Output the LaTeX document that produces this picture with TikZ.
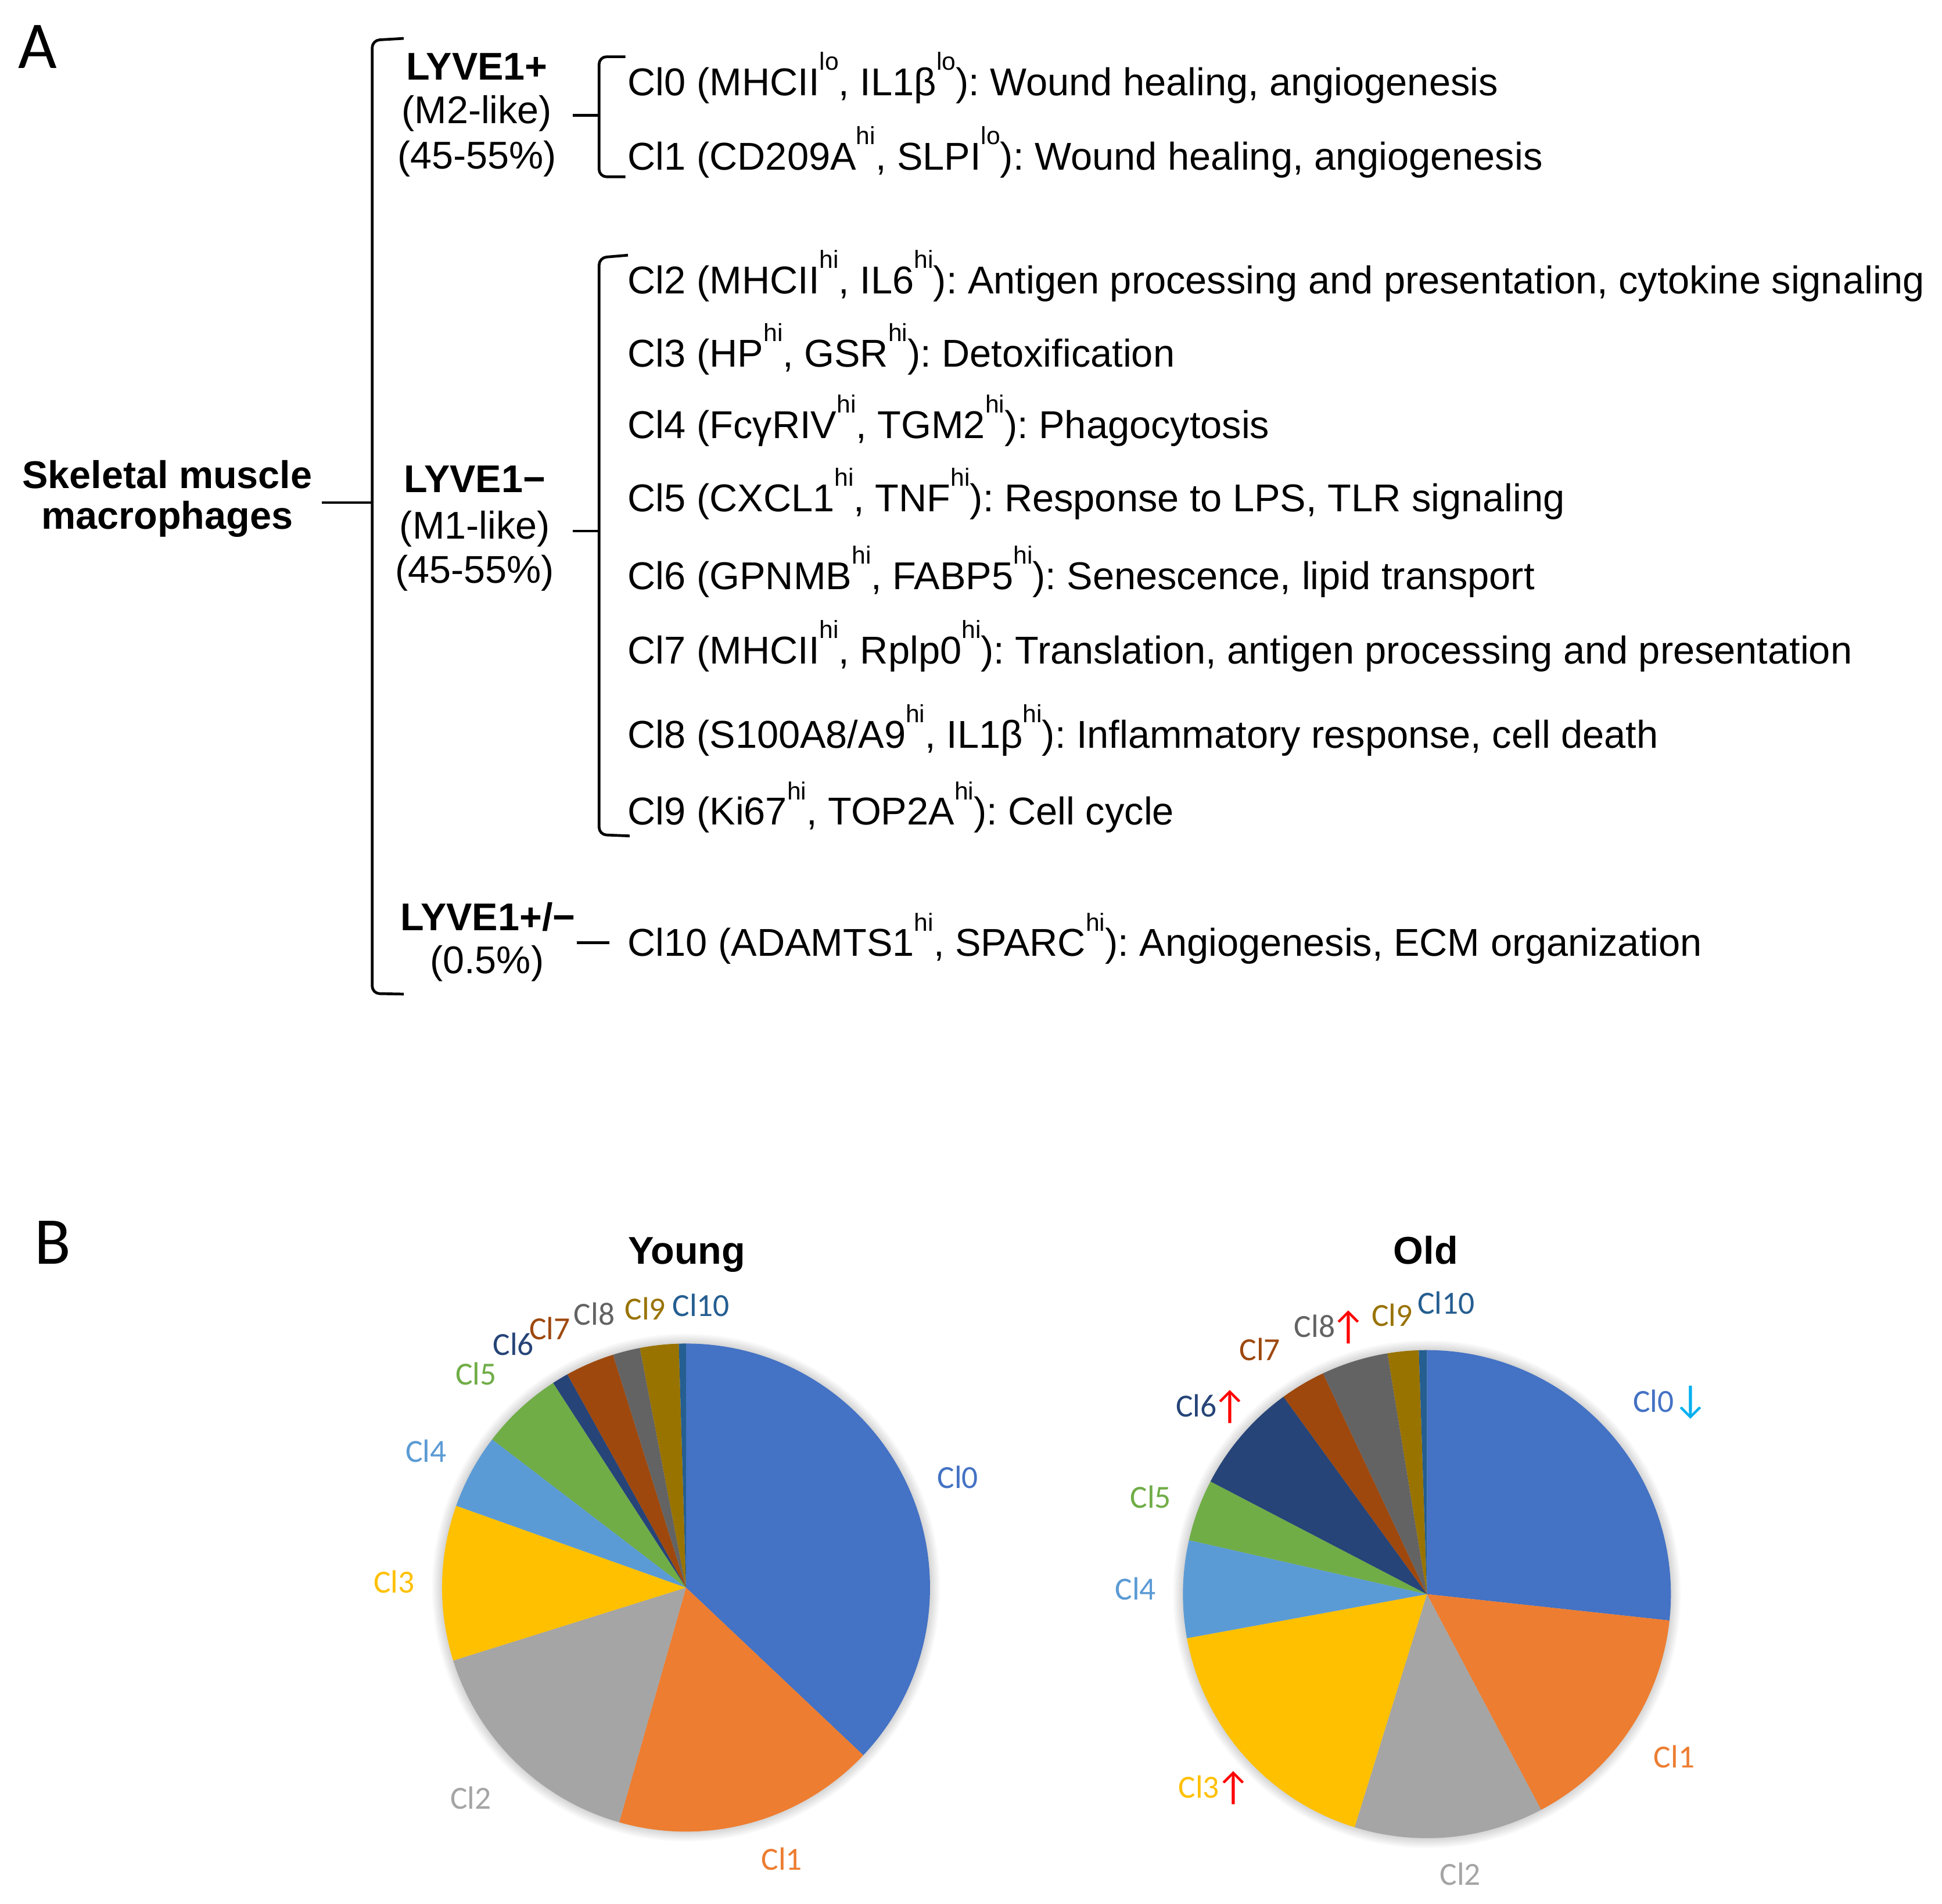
\documentclass[tikz,border=0pt]{standalone}
\usepackage{fontspec}
\setmainfont{Liberation Sans}
\newfontfamily\carl{Carlito}
\newcommand\hs[1]{\raisebox{10.3pt}{\fontsize{10}{10}\selectfont #1}}
\definecolor{c0}{HTML}{4472C4}
\definecolor{c1}{HTML}{ED7D31}
\definecolor{c2}{HTML}{A5A5A5}
\definecolor{c3}{HTML}{FFC000}
\definecolor{c4}{HTML}{5B9BD5}
\definecolor{c5}{HTML}{70AD47}
\definecolor{c6}{HTML}{264478}
\definecolor{c7}{HTML}{9E480E}
\definecolor{c8}{HTML}{636363}
\definecolor{c9}{HTML}{997300}
\definecolor{c10}{HTML}{255E91}
\definecolor{upred}{HTML}{FF0000}
\definecolor{dncyan}{HTML}{00B0F0}
\tikzset{
  ln/.style={line width=1.1pt},
  brk/.style={line width=1.1pt, rounded corners=3pt},
  cl/.style={anchor=base west, inner sep=0pt, font=\fontsize{15.65}{18}\selectfont},
  grp/.style={anchor=base, inner sep=0pt, font=\fontsize{15.6}{18}\selectfont},
  grpb/.style={anchor=base, inner sep=0pt, font=\bfseries\fontsize{15.6}{18}\selectfont},
  big/.style={anchor=base west, inner sep=0pt, font=\carl\fontsize{27}{27}\selectfont},
  ttl/.style={anchor=base, inner sep=0pt, font=\bfseries\fontsize{15.6}{18}\selectfont},
  pl/.style={inner sep=0pt, font=\carl\fontsize{13}{13}\selectfont},
  arw/.style={inner sep=0pt, font=\carl\fontsize{16}{16}\selectfont},
}
\newcommand\mywedge[3]{\fill[#1] (0,0) -- (#2:197) arc[start angle=#2, end angle=#3, radius=197] -- cycle;}
\begin{document}
\frenchspacing
\begin{tikzpicture}[x=0.5pt, y=0.5pt]
\useasboundingbox (0,0) rectangle (1568,-1537);
\fill[white] (0,0) rectangle (1568,-1537);

% ---------- Panel A ----------
\node[big] (lblA) at (14.5,-55.2) {A};

\node[grpb] (sk1) at (135,-394) {Skeletal muscle};
\node[grpb] (sk2) at (135,-427) {macrophages};

% big bracket
\coordinate (bbT) at (326,-31);
\coordinate (bbB) at (326,-802.5);
\coordinate (bbM) at (300.5,-405.7);
\draw[brk] (bbT) -- (300.5,-32.5) -- (300.5,-802) -- (bbB);
\coordinate (skE) at (260,-405.7);
\draw[ln] (skE) -- (bbM);

% group LYVE1+
\node[grpb] (g1a) at (385,-64.6) {LYVE1+};
\node[grp] (g1b) at (385,-99.8) {(M2-like)};
\node[grp] (g1c) at (385,-136.2) {(45-55\%)};
% group LYVE1-
\node[grpb] (g2a) at (383.3,-397.4) {LYVE1−};
\node[grp] (g2b) at (383.3,-435) {(M1-like)};
\node[grp] (g2c) at (383.3,-470.5) {(45-55\%)};
% group LYVE1+/-
\node[grpb] (g3a) at (394,-751) {LYVE1+/−};
\node[grp] (g3b) at (393.2,-786) {(0.5\%)};

% small brackets
\coordinate (b1M) at (483.7,-93);
\draw[brk] (505,-45.8) -- (483.7,-45.8) -- (483.7,-142.7) -- (505,-142.7);
\coordinate (g1E) at (462.3,-93);
\draw[ln] (g1E) -- (b1M);

\coordinate (b2M) at (483.7,-428.7);
\draw[brk] (507,-206) -- (483.7,-208) -- (483.7,-673.8) -- (508.4,-674.8);
\coordinate (g2E) at (462.3,-428.7);
\draw[ln] (g2E) -- (b2M);

\coordinate (g3E) at (465.6,-761);
\coordinate (c10W) at (491.9,-761);
\draw[ln] (g3E) -- (c10W);

% cluster lines
\node[cl] (cl0) at (506.5,-77) {Cl0 (MHCII\hs{lo}, IL1β\hs{lo}): Wound healing, angiogenesis};
\node[cl] (cl1) at (506.5,-137) {Cl1 (CD209A\hs{hi}, SLPI\hs{lo}): Wound healing, angiogenesis};
\node[cl] (cl2) at (506.5,-237) {Cl2 (MHCII\hs{hi}, IL6\hs{hi}): Antigen processing and presentation, cytokine signaling};
\node[cl] (cl3) at (506.5,-296) {Cl3 (HP\hs{hi}, GSR\hs{hi}): Detoxification};
\node[cl] (cl4) at (506.5,-354) {Cl4 (FcγRIV\hs{hi}, TGM2\hs{hi}): Phagocytosis};
\node[cl] (cl5) at (506.5,-413) {Cl5 (CXCL1\hs{hi}, TNF\hs{hi}): Response to LPS, TLR signaling};
\node[cl] (cl6) at (506.5,-476) {Cl6 (GPNMB\hs{hi}, FABP5\hs{hi}): Senescence, lipid transport};
\node[cl] (cl7) at (506.5,-536) {Cl7 (MHCII\hs{hi}, Rplp0\hs{hi}): Translation, antigen processing and presentation};
\node[cl] (cl8) at (506.5,-604) {Cl8 (S100A8/A9\hs{hi}, IL1β\hs{hi}): Inflammatory response, cell death};
\node[cl] (cl9) at (506.5,-666) {Cl9 (Ki67\hs{hi}, TOP2A\hs{hi}): Cell cycle};
\node[cl] (cl10) at (506.5,-772) {Cl10 (ADAMTS1\hs{hi}, SPARC\hs{hi}): Angiogenesis, ECM organization};

% ---------- Panel B ----------
\node[big] (lblB) at (27.5,-1020.2) {B};
\node[ttl] (tY) at (554.5,-1020.2) {Young};
\node[ttl] (tO) at (1151.1,-1020.2) {Old};

% Young pie
\begin{scope}[shift={(553.9,-1281.6)}]
  \foreach \k in {1,...,8} \fill[black, opacity=0.018] (0,0) circle (197+\k);
  \mywedge{c0}{90}{-43.4}
  \mywedge{c1}{-43.4}{-105.9}
  \mywedge{c2}{-105.9}{-162.6}
  \mywedge{c3}{-162.6}{-199.6}
  \mywedge{c4}{-199.6}{-217.4}
  \mywedge{c5}{-217.4}{-237.0}
  \mywedge{c6}{-237.0}{-240.9}
  \mywedge{c7}{-240.9}{-252.6}
  \mywedge{c8}{-252.6}{-259.1}
  \mywedge{c9}{-259.1}{-268.3}
  \mywedge{c10}{-268.3}{-270}
\end{scope}
\node[pl, text=c0] (y0) at (773.4,-1192.6) {Cl0};
\node[pl, text=c1] (y1) at (631.2,-1500.6) {Cl1};
\node[pl, text=c2] (y2) at (380.2,-1451.3) {Cl2};
\node[pl, text=c3] (y3) at (318.3,-1277.1) {Cl3};
\node[pl, text=c4] (y4) at (343.9,-1171.5) {Cl4};
\node[pl, text=c5] (y5) at (384.4,-1108.9) {Cl5};
\node[pl, text=c6] (y6) at (414.5,-1085) {Cl6};
\node[pl, text=c7] (y7) at (444,-1072.3) {Cl7};
\node[pl, text=c8] (y8) at (479.8,-1060.6) {Cl8};
\node[pl, text=c9] (y9) at (521,-1056.4) {Cl9};
\node[pl, text=c10] (y10) at (566,-1053.6) {Cl10};

% Old pie
\begin{scope}[shift={(1152.1,-1286.9)}]
  \foreach \k in {1,...,8} \fill[black, opacity=0.018] (0,0) circle (197+\k);
  \mywedge{c0}{90}{-6.2}
  \mywedge{c1}{-6.2}{-62.1}
  \mywedge{c2}{-62.1}{-107.25}
  \mywedge{c3}{-107.25}{-169.6}
  \mywedge{c4}{-169.6}{-192.8}
  \mywedge{c5}{-192.8}{-207.5}
  \mywedge{c6}{-207.5}{-234.0}
  \mywedge{c7}{-234.0}{-244.8}
  \mywedge{c8}{-244.8}{-260.7}
  \mywedge{c9}{-260.7}{-268.1}
  \mywedge{c10}{-268.1}{-270}
\end{scope}
\node[pl, text=c0] (o0) at (1335,-1131) {Cl0};
\node[arw, text=dncyan] (o0a) at (1365,-1132) {↓};
\node[pl, text=c1] (o1) at (1351.8,-1417.9) {Cl1};
\node[pl, text=c2] (o2) at (1179.1,-1512.9) {Cl2};
\node[pl, text=c3] (o3) at (968,-1442.5) {Cl3};
\node[arw, text=upred] (o3a) at (996,-1443.5) {↑};
\node[pl, text=c4] (o4) at (916.8,-1282.4) {Cl4};
\node[pl, text=c5] (o5) at (929,-1208.5) {Cl5};
\node[pl, text=c6] (o6) at (966,-1134.6) {Cl6};
\node[arw, text=upred] (o6a) at (993,-1135.6) {↑};
\node[pl, text=c7] (o7) at (1017.2,-1089.5) {Cl7};
\node[pl, text=c8] (o8) at (1061.5,-1070.5) {Cl8};
\node[arw, text=upred] (o8a) at (1089,-1071.5) {↑};
\node[pl, text=c9] (o9) at (1124,-1061.7) {Cl9};
\node[pl, text=c10] (o10) at (1167.6,-1051.9) {Cl10};
\end{tikzpicture}
\end{document}
